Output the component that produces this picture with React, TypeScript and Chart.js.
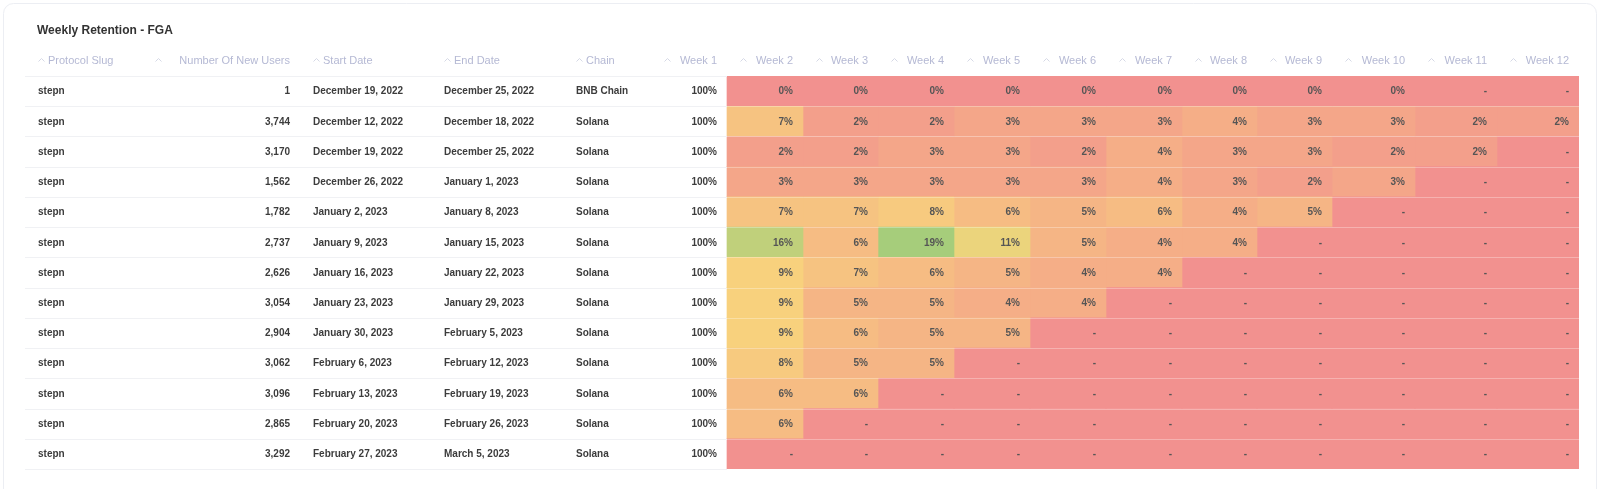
import React, { useEffect, useRef } from "react";
import { Chart, registerables } from "chart.js";

Chart.register(...registerables);

const TITLE = "Weekly Retention - FGA";
const HEADERS = [
  "Protocol Slug", "Number Of New Users", "Start Date", "End Date", "Chain",
  "Week 1", "Week 2", "Week 3", "Week 4", "Week 5", "Week 6", "Week 7",
  "Week 8", "Week 9", "Week 10", "Week 11", "Week 12",
];
const SLUGS = ["stepn", "stepn", "stepn", "stepn", "stepn", "stepn", "stepn", "stepn", "stepn", "stepn", "stepn", "stepn", "stepn"];
const NEW_USERS = [1, 3744, 3170, 1562, 1782, 2737, 2626, 3054, 2904, 3062, 3096, 2865, 3292];
const START_DATES = [
  "December 19, 2022", "December 12, 2022", "December 19, 2022", "December 26, 2022",
  "January 2, 2023", "January 9, 2023", "January 16, 2023", "January 23, 2023",
  "January 30, 2023", "February 6, 2023", "February 13, 2023", "February 20, 2023",
  "February 27, 2023",
];
const END_DATES = [
  "December 25, 2022", "December 18, 2022", "December 25, 2022", "January 1, 2023",
  "January 8, 2023", "January 15, 2023", "January 22, 2023", "January 29, 2023",
  "February 5, 2023", "February 12, 2023", "February 19, 2023", "February 26, 2023",
  "March 5, 2023",
];
const CHAINS = ["BNB Chain", "Solana", "Solana", "Solana", "Solana", "Solana", "Solana", "Solana", "Solana", "Solana", "Solana", "Solana", "Solana"];
const WEEK_1 = [100, 100, 100, 100, 100, 100, 100, 100, 100, 100, 100, 100, 100];
const WEEK_2 = [0, 7, 2, 3, 7, 16, 9, 9, 9, 8, 6, 6, null];
const WEEK_3 = [0, 2, 2, 3, 7, 6, 7, 5, 6, 5, 6, null, null];
const WEEK_4 = [0, 2, 3, 3, 8, 19, 6, 5, 5, 5, null, null, null];
const WEEK_5 = [0, 3, 3, 3, 6, 11, 5, 4, 5, null, null, null, null];
const WEEK_6 = [0, 3, 2, 3, 5, 5, 4, 4, null, null, null, null, null];
const WEEK_7 = [0, 3, 4, 4, 6, 4, 4, null, null, null, null, null, null];
const WEEK_8 = [0, 4, 3, 3, 4, 4, null, null, null, null, null, null, null];
const WEEK_9 = [0, 3, 3, 2, 5, null, null, null, null, null, null, null, null];
const WEEK_10 = [0, 3, 2, 3, null, null, null, null, null, null, null, null, null];
const WEEK_11 = [null, 2, 2, null, null, null, null, null, null, null, null, null, null];
const WEEK_12 = [null, 2, null, null, null, null, null, null, null, null, null, null, null];
const HEAT_WEEKS = [WEEK_2, WEEK_3, WEEK_4, WEEK_5, WEEK_6, WEEK_7, WEEK_8, WEEK_9, WEEK_10, WEEK_11, WEEK_12];

// layout (styling) constants
const COLUMN_WIDTHS = [117, 158, 131, 132, 88, 76, 76, 75, 76, 76, 76, 76, 75, 75, 83, 82, 82];
const RIGHT_ALIGNED = [false, true, false, false, false, true, true, true, true, true, true, true, true, true, true, true, true];
const EDGES = COLUMN_WIDTHS.reduce((acc: number[], w) => { acc.push(acc[acc.length - 1] + w); return acc; }, [0]);
const TOTAL = EDGES[EDGES.length - 1];
const FIRST_HEAT_COL = 6;

const C_LOW = [242, 145, 143];
const C_MID = [248, 213, 124];
const C_HIGH = [166, 205, 123];

const allVals = HEAT_WEEKS.flat().filter((v) => v !== null) as number[];
const MAX_V = Math.max(...allVals);
const MIN_V = Math.min(...allVals);

function mix(a: number[], b: number[], t: number) {
  const c = a.map((x, i) => Math.round(x + (b[i] - x) * t));
  return `rgb(${c[0]},${c[1]},${c[2]})`;
}
function heatColor(v: number | null) {
  if (v === null) return mix(C_LOW, C_LOW, 0);
  const mid = (MIN_V + MAX_V) / 2;
  if (v <= mid) return mix(C_LOW, C_MID, (v - MIN_V) / (mid - MIN_V));
  return mix(C_MID, C_HIGH, (v - mid) / (MAX_V - mid));
}

const FONT = "'Liberation Sans', Arial, Helvetica, sans-serif";

const tablePlugin = {
  id: "tableText",
  beforeDraw(chart: any) {
    const ctx = chart.ctx as CanvasRenderingContext2D;
    ctx.save();
    ctx.fillStyle = "#ffffff";
    ctx.fillRect(0, 0, chart.width, chart.height);
    ctx.strokeStyle = "#eceef3";
    ctx.lineWidth = 1;
    ctx.beginPath();
    (ctx as any).roundRect(3.5, 3.5, chart.width - 7, chart.height + 20, 10);
    ctx.stroke();
    ctx.fillStyle = "#333333";
    ctx.font = `bold 12px ${FONT}`;
    ctx.textBaseline = "middle";
    ctx.textAlign = "left";
    ctx.fillText(TITLE, 37, 31);
    ctx.restore();
  },
  afterDatasetsDraw(chart: any) {
    const ctx = chart.ctx as CanvasRenderingContext2D;
    const xs = chart.scales.x;
    const ys = chart.scales.y;
    const rowH = ys.getPixelForValue(1) - ys.getPixelForValue(0);
    const colL = (c: number) => xs.getPixelForValue(EDGES[c]);
    const colR = (c: number) => xs.getPixelForValue(EDGES[c + 1]);
    const heatLeft = colL(FIRST_HEAT_COL);
    const heatRight = colR(COLUMN_WIDTHS.length - 1);
    const tableLeft = colL(0);
    ctx.save();
    // row separators
    for (let i = 0; i <= SLUGS.length; i++) {
      const y = Math.round(ys.getPixelForValue(0) - rowH / 2 + i * rowH) + 0.5;
      ctx.strokeStyle = "#f0f1f4";
      ctx.lineWidth = 1;
      ctx.beginPath();
      ctx.moveTo(tableLeft, y);
      ctx.lineTo(heatLeft, y);
      ctx.stroke();
      if (i > 0 && i < SLUGS.length) {
        ctx.strokeStyle = "rgba(255,255,255,0.3)";
        ctx.beginPath();
        ctx.moveTo(heatLeft, y);
        ctx.lineTo(heatRight, y);
        ctx.stroke();
      }
    }
    // headers
    const headY = ys.getPixelForValue(0) - rowH / 2 - 15;
    HEADERS.forEach((h, c) => {
      const l = colL(c);
      const r = colR(c);
      const cx = l + 16.5;
      ctx.strokeStyle = "#d6d9e6";
      ctx.lineWidth = 1;
      ctx.beginPath();
      ctx.moveTo(cx - 3, headY + 0.5);
      ctx.lineTo(cx, headY - 2.5);
      ctx.lineTo(cx + 3, headY + 0.5);
      ctx.stroke();
      ctx.fillStyle = "#b5b9d4";
      ctx.font = `11px ${FONT}`;
      ctx.textBaseline = "middle";
      if (RIGHT_ALIGNED[c]) {
        ctx.textAlign = "right";
        ctx.fillText(h, r - 10, headY);
      } else {
        ctx.textAlign = "left";
        ctx.fillText(h, l + 23, headY);
      }
    });
    // body
    ctx.textBaseline = "middle";
    for (let i = 0; i < SLUGS.length; i++) {
      const y = ys.getPixelForValue(i) + 0.5;
      const cells: string[] = [
        SLUGS[i],
        NEW_USERS[i].toLocaleString("en-US"),
        START_DATES[i],
        END_DATES[i],
        CHAINS[i],
        `${WEEK_1[i]}%`,
        ...HEAT_WEEKS.map((w) => (w[i] === null ? "-" : `${w[i]}%`)),
      ];
      cells.forEach((t, c) => {
        const heat = c >= FIRST_HEAT_COL;
        ctx.font = `bold 10px ${FONT}`;
        ctx.fillStyle = heat ? "#555555" : "#3c3c3c";
        if (RIGHT_ALIGNED[c]) {
          ctx.textAlign = "right";
          ctx.fillText(t, colR(c) - 10, y);
        } else {
          ctx.textAlign = "left";
          ctx.fillText(t, colL(c) + 13, y);
        }
      });
    }
    ctx.restore();
  },
};

export default function App() {
  const ref = useRef<HTMLCanvasElement | null>(null);
  useEffect(() => {
    document.body.style.margin = "0";
    const canvas = ref.current!;
    const datasets = HEAT_WEEKS.map((w, k) => ({
      label: HEADERS[FIRST_HEAT_COL + k],
      data: w.map(() => [EDGES[FIRST_HEAT_COL + k], EDGES[FIRST_HEAT_COL + k + 1]]),
      backgroundColor: w.map((v) => heatColor(v)),
      borderWidth: 0,
      barPercentage: 1,
      categoryPercentage: 1,
      grouped: false,
    }));
    const chart = new Chart(canvas, {
      type: "bar",
      data: { labels: START_DATES.map((d, i) => `${i}`), datasets: datasets as any },
      options: {
        animation: false,
        responsive: false,
        devicePixelRatio: 1,
        indexAxis: "y",
        layout: { padding: { left: 25, right: 21, top: 76, bottom: 20 } },
        scales: {
          x: { type: "linear", min: 0, max: TOTAL, display: false },
          y: { type: "category", display: false, offset: true },
        },
        plugins: { legend: { display: false }, tooltip: { enabled: false }, title: { display: false } },
      } as any,
      plugins: [tablePlugin],
    });
    return () => chart.destroy();
  }, []);
  return <canvas ref={ref} width={1600} height={489} style={{ display: "block" }} />;
}
